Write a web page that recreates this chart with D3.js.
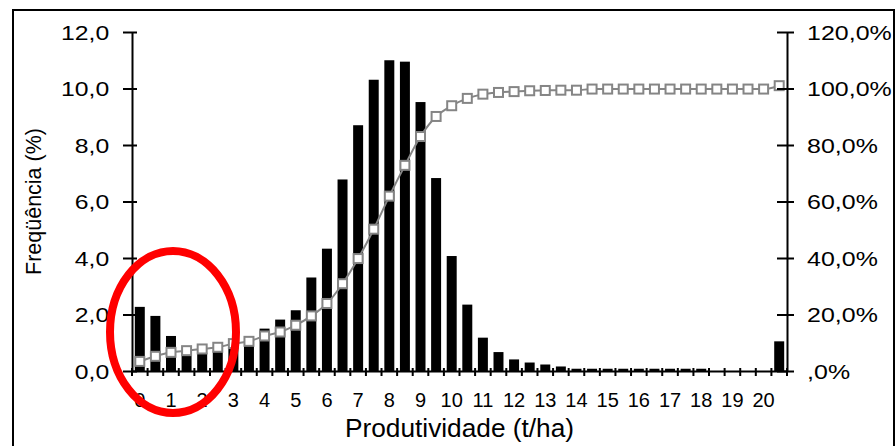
<!DOCTYPE html>
<html>
<head>
<meta charset="utf-8">
<script src="https://cdn.jsdelivr.net/npm/d3@7"></script>
<style>
  html, body { margin: 0; padding: 0; background: #fff; }
  svg { display: block; font-family: "Liberation Sans", Arial, sans-serif; }
</style>
</head>
<body>
<script>
// ---- data ----
const categories = [0, 0.5, 1, 1.5, 2, 2.5, 3, 3.5, 4, 4.5, 5, 5.5, 6, 6.5, 7, 7.5, 8, 8.5, 9, 9.5,
  10, 10.5, 11, 11.5, 12, 12.5, 13, 13.5, 14, 14.5, 15, 15.5, 16, 16.5, 17, 17.5, 18, 18.5, 19, 19.5, 20, 20.5];
const frequency = [2.27, 1.95, 1.24, 0.70, 0.65, 0.72, 0.90, 1.00, 1.50, 1.82, 2.15, 3.31, 4.33, 6.78, 8.70, 10.31,
  11.00, 10.95, 9.52, 6.83, 4.07, 2.35, 1.18, 0.67, 0.41, 0.30, 0.23, 0.16, 0.08, 0.08, 0.08, 0.08, 0.08, 0.08,
  0.08, 0.08, 0.08, 0, 0, 0, 0, 1.05];
const cumulative = [3.4, 5.2, 6.6, 7.2, 7.8, 8.4, 9.7, 10.5, 12.4, 13.8, 16.2, 19.5, 23.9, 30.9, 39.8, 50.2,
  61.9, 72.8, 83.0, 90.1, 93.9, 96.5, 98.0, 98.6, 98.9, 99.2, 99.3, 99.4, 99.4, 99.8, 99.8, 99.8, 99.8, 99.8,
  99.8, 99.8, 99.8, 99.8, 99.8, 99.8, 99.8, 101.0];
const xTickValues = [0, 1, 2, 3, 4, 5, 6, 7, 8, 9, 10, 11, 12, 13, 14, 15, 16, 17, 18, 19, 20];
const xTickLabels = ["0", "1", "2", "3", "4", "5", "6", "7", "8", "9", "10", "11", "12", "13", "14", "15", "16", "17", "18", "19", "20"];
const leftTicks = [0, 2, 4, 6, 8, 10, 12];
const leftTickLabels = ["0,0", "2,0", "4,0", "6,0", "8,0", "10,0", "12,0"];
const rightTicks = [0, 20, 40, 60, 80, 100, 120];
const rightTickLabels = [",0%", "20,0%", "40,0%", "60,0%", "80,0%", "100,0%", "120,0%"];
const xTitle = "Produtividade (t/ha)";
const yTitle = "Freqüência (%)";

// ---- layout ----
const W = 896, H = 446;
const P = { left: 132, right: 787, top: 32, bottom: 371 };

const svg = d3.select("body").append("svg").attr("width", W).attr("height", H);
svg.append("rect").attr("width", W).attr("height", H).attr("fill", "#fff");

// outer border (bottom edge falls outside the picture)
svg.append("rect").attr("x", 13).attr("y", 10).attr("width", 881).attr("height", 470)
  .attr("fill", "none").attr("stroke", "#000").attr("stroke-width", 2);

const x = d3.scaleBand().domain(categories).range([P.left, P.right]).paddingInner(0.36).paddingOuter(0.18);
const yL = d3.scaleLinear().domain([0, 12]).range([P.bottom, P.top]);
const yR = d3.scaleLinear().domain([0, 120]).range([P.bottom, P.top]);
const cx = d => x(d) + x.bandwidth() / 2;

// bars
svg.append("g").selectAll("rect").data(categories).join("rect")
  .attr("x", d => x(d))
  .attr("width", x.bandwidth())
  .attr("y", (d, i) => yL(frequency[i]))
  .attr("height", (d, i) => yL(0) - yL(frequency[i]))
  .attr("fill", "#000");

// cumulative line
const line = d3.line().x((d, i) => cx(categories[i])).y(d => yR(d)).curve(d3.curveMonotoneX);
svg.append("path").datum(cumulative).attr("d", line)
  .attr("fill", "none").attr("stroke", "#858585").attr("stroke-width", 2);
const ms = 9;
svg.append("g").selectAll("rect").data(cumulative).join("rect")
  .attr("x", (d, i) => cx(categories[i]) - ms / 2)
  .attr("y", d => yR(d) - ms / 2)
  .attr("width", ms).attr("height", ms)
  .attr("fill", "#fff").attr("stroke", "#858585").attr("stroke-width", 2);

// x axis
const gx = svg.append("g").attr("transform", `translate(0,${P.bottom})`)
  .call(d3.axisBottom(x).tickValues(xTickValues).tickFormat((d, i) => xTickLabels[i])
    .tickSize(0).tickSizeOuter(0).tickPadding(22));
gx.select(".domain").attr("stroke", "#000").attr("stroke-width", 2);
gx.selectAll(".tick text").attr("font-size", 20).attr("fill", "#000").attr("font-family", null);
// category boundary tick marks
const step = x.step();
const bounds = categories.map(c => cx(c) - step / 2).concat([cx(categories[categories.length - 1]) + step / 2]);
svg.append("g").selectAll("line").data(bounds).join("line")
  .attr("x1", d => d).attr("x2", d => d)
  .attr("y1", P.bottom - 3).attr("y2", P.bottom + 5)
  .attr("stroke", "#000").attr("stroke-width", 2);

// left axis
const gl = svg.append("g").attr("transform", `translate(${P.left},0)`)
  .call(d3.axisLeft(yL).tickValues(leftTicks).tickFormat((d, i) => leftTickLabels[i]).tickSizeOuter(0));
gl.select(".domain").attr("stroke", "#000").attr("stroke-width", 2);
gl.selectAll(".tick line").attr("x1", 5).attr("x2", -9).attr("stroke", "#000").attr("stroke-width", 2);
gl.selectAll(".tick text").attr("x", -18).attr("dy", "0.36em").attr("font-size", 19.5)
  .attr("font-family", null).attr("fill", "#000").attr("transform", "scale(1.27,1)");

// right axis
const gr = svg.append("g").attr("transform", `translate(${P.right},0)`)
  .call(d3.axisRight(yR).tickValues(rightTicks).tickFormat((d, i) => rightTickLabels[i]).tickSizeOuter(0));
gr.select(".domain").attr("stroke", "#000").attr("stroke-width", 2);
gr.selectAll(".tick line").attr("x1", -10).attr("x2", 7).attr("stroke", "#000").attr("stroke-width", 2);
gr.selectAll(".tick text").attr("x", 15.7).attr("dy", "0.36em").attr("font-size", 19.5)
  .attr("font-family", null).attr("fill", "#000").attr("transform", "scale(1.28,1)");

// titles
svg.append("text").attr("transform", `translate(${(P.left + P.right) / 2},437) scale(1.05,1)`)
  .attr("text-anchor", "middle").attr("font-size", 25).attr("fill", "#000").text(xTitle);
svg.append("text").attr("transform", `translate(40.5,${(P.top + P.bottom) / 2}) rotate(-90)`)
  .attr("text-anchor", "middle").attr("font-size", 21.5).attr("fill", "#000").text(yTitle);

// red highlight ellipse
svg.append("ellipse").attr("cx", 173).attr("cy", 332).attr("rx", 63).attr("ry", 81)
  .attr("fill", "none").attr("stroke", "#ff0000").attr("stroke-width", 8);
</script>
</body>
</html>
